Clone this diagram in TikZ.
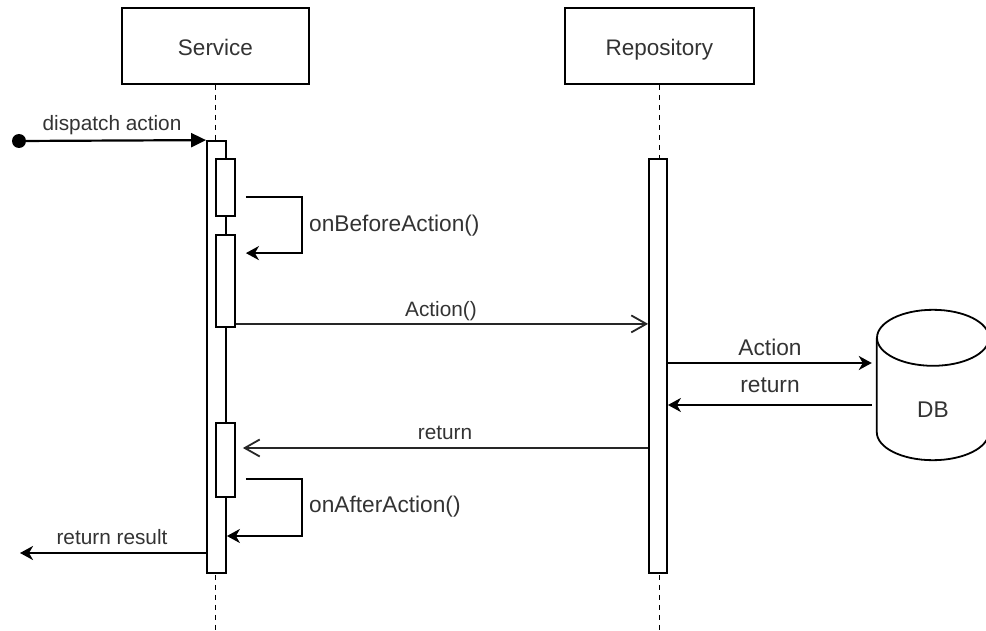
\documentclass[tikz,border=0pt]{standalone}
\usepackage{fontspec}
\setmainfont{Liberation Sans}
\usepackage{xcolor}
\usepackage{tikz}
\usetikzlibrary{arrows.meta,positioning,calc}
\definecolor{labelgray}{HTML}{333333}
\tikzset{
  actorbox/.style={
    draw=black,line width=1.8pt,rectangle,minimum width=187pt,minimum height=76pt,
    text height=19pt,text depth=0pt,
    font=\fontsize{22.5}{26}\selectfont,text=labelgray,
  },
  actbar/.style={
    draw=black,fill=white,line width=1.8pt,rectangle,inner sep=0pt,minimum width=19pt,
  },
  lifeline/.style={black,line width=1.6pt,dash pattern=on 5pt off 5pt},
  syncmsg/.style={black,line width=2.2pt},
  selfcall/.style={black,line width=2.2pt,-{Stealth[length=13pt,width=14pt,inset=4pt]}},
  callmsg/.style={black!85,line width=1.8pt,-{Straight Barb[length=15pt,width=17pt]}},
  msglabel/.style={inner sep=0pt,text=labelgray,font=\fontsize{20.8}{24}\selectfont},
  biglabel/.style={inner sep=0pt,text=labelgray,font=\fontsize{22.7}{26}\selectfont},
  dbline/.style={black,line width=1.8pt},
}
\begin{document}
\begin{tikzpicture}[x=1pt,y=-1pt]
  \clip (0,0) rectangle (986,631);
  % heads and lifelines
  \node[actorbox] (svc) at (215.5,46) {Service};
  \node[actorbox,minimum width=189pt] (repo) [right=254pt of svc] {Repository};
  \coordinate (svcend) at (svc.south |- 0,631);
  \coordinate (repoend) at (repo.south |- 0,631);
  \draw[lifeline] (svc) -- (svcend);
  \draw[lifeline] (repo) -- (repoend);

  % activation bars
  \node[actbar,minimum height=432pt] (svcbar) at (216.5,357) {};
  \node[actbar,minimum width=18pt,minimum height=414pt] (repobar) at (658,366) {};
  \node[actbar,minimum height=57pt] (box1) at (225.5,187.5) {};
  \node[actbar,minimum height=92pt] (box2) at (225.5,281) {};
  \node[actbar,minimum height=74pt] (box3) at (225.5,460) {};

  % database
  \node[inner sep=0pt,minimum width=112pt,minimum height=150pt] (db) at (933,385) {};
  \draw[dbline] ($(db.north)+(0,28)$) ellipse [x radius=56, y radius=28];
  \draw[dbline] ($(db.north west)+(0,28)$) -- ($(db.south west)+(0,-28)$)
    arc [start angle=180, end angle=0, x radius=56, y radius=28]
    -- ($(db.north east)+(0,28)$);
  \node[biglabel] (dbtext) at (933,410) {DB};

  % messages
  \node[fill=black,circle,inner sep=0pt,minimum size=14pt] (start) at (19,141) {};
  \draw[syncmsg,-{Triangle[length=15pt,width=14pt]}] (start) -- (svcbar.north west);
  \node[msglabel] (lbldispatch) at (112,125) {dispatch action};

  \coordinate (b1) at ($(box1.south east)+(10,-20)$);
  \coordinate (b2) at ($(box2.north east)+(10,19)$);
  \draw[selfcall] (b1) -- ++(56,0) |- (b2);
  \node[biglabel,anchor=west] (lblbefore) at (309,226) {onBeforeAction()};

  \coordinate (a1) at ($(box2.south east)+(0,-4)$);
  \draw[callmsg] (a1) -- (repobar.west |- a1);
  \node[msglabel] (lblaction) at (441,311) {Action()};

  \coordinate (q1) at ($(repobar.east)+(0,-3)$);
  \coordinate (q2) at ($(repobar.east)+(0,39)$);
  \draw[syncmsg,-{Stealth[length=13pt,width=14pt,inset=4pt]},shorten >=5pt] (q1) -- (db.west |- q1);
  \draw[syncmsg,-{Stealth[length=13pt,width=14pt,inset=4pt]},shorten <=5pt] (db.west |- q2) -- (q2);
  \node[biglabel] (lbldbaction) at (770,347) {Action};
  \node[biglabel] (lbldbreturn) at (770,385) {return};

  \coordinate (r1) at ($(repobar.west)+(0,82)$);
  \draw[callmsg,shorten >=7pt] (r1) -- (box3.east |- r1);
  \node[msglabel] (lblreturn) at (445,433) {return};

  \coordinate (c1) at ($(box3.south east)+(10,-19)$);
  \coordinate (c2) at ($(svcbar.east)+(0,179)$);
  \draw[selfcall] (c1) -- ++(56,0) |- (c2);
  \node[biglabel,anchor=west] (lblafter) at (309,507) {onAfterAction()};

  \coordinate (caller) at (20,553);
  \draw[syncmsg,-{Stealth[length=13pt,width=14pt,inset=4pt]}] (svcbar.west |- caller) -- (caller);
  \node[msglabel] (lblresult) at (112,537) {return result};
\end{tikzpicture}
\end{document}
